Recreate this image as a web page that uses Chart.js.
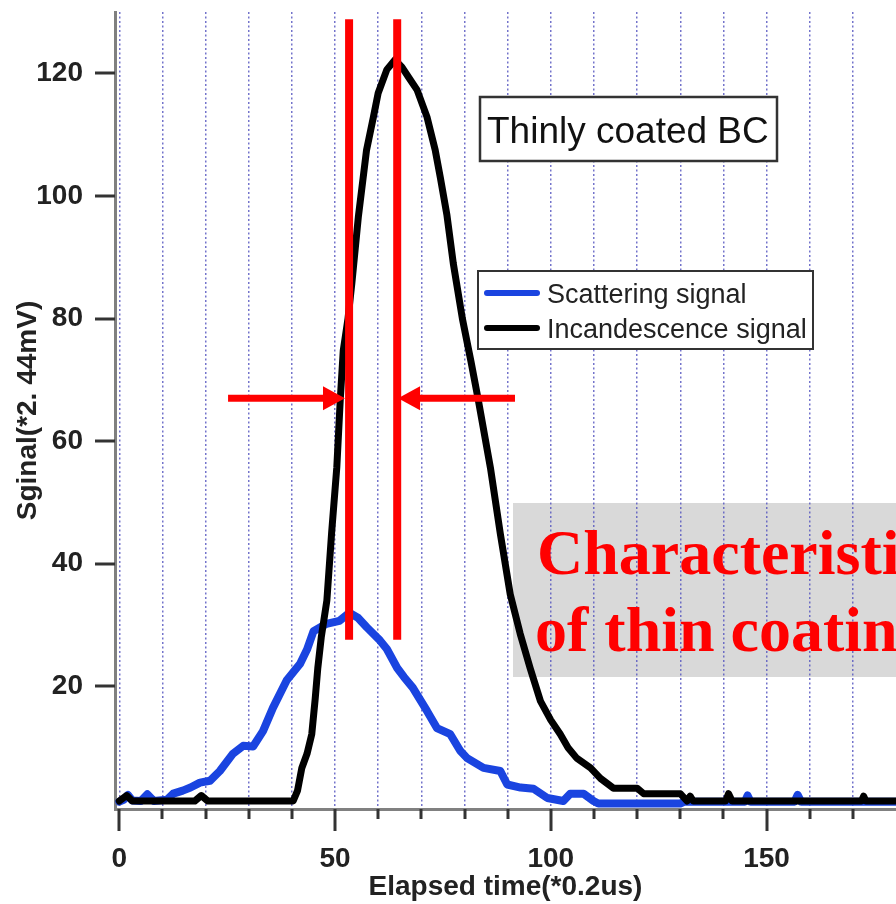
<!DOCTYPE html>
<html>
<head>
<meta charset="utf-8">
<script src="https://cdn.jsdelivr.net/npm/chart.js@4/dist/chart.umd.min.js"></script>
<style>
  html, body { margin: 0; padding: 0; background: #fff; }
  canvas { display: block; }
</style>
</head>
<body>
<canvas id="signal-chart" width="896" height="904"></canvas>
<script>
// scattering signal (blue), elapsed time in units of 0.2us
const scatterTime = [0, 1, 2, 3, 5, 6.5, 8, 11, 12.5, 14.7, 16.5, 18.7, 21, 23.3, 26.3, 28.7, 31, 33.3,
  35.6, 38.8, 41.9, 43.5, 45, 48, 51, 53.3, 55.3, 57.4, 60.4, 62, 64.4, 66, 68, 71.3, 73.6, 76.7,
  79, 80.6, 84.4, 88.3, 89.9, 93, 96, 99.2, 102.9, 104.5, 107.6, 109.9, 111, 130, 131, 145, 145.6,
  146.3, 156.5, 157.2, 158, 180];
const scatterValue = [1.2, 1.5, 2.3, 1.4, 1.3, 2.4, 1.3, 1.5, 2.5, 3, 3.5, 4.3, 4.6, 6.2, 9, 10.3, 10.2, 12.7,
  16.5, 21, 23.7, 26, 29, 30.2, 30.7, 32, 31.2, 29.6, 27.5, 26.1, 23, 21.5, 19.8, 16, 13.2, 12.2,
  9.5, 8.3, 6.7, 6.2, 4, 3.5, 3.3, 1.8, 1.3, 2.5, 2.5, 1.3, 0.9, 0.9, 1.2, 1.2, 2.2,
  1.2, 1.2, 2.3, 1.2, 1.2];

// incandescence signal (black)
const incandTime = [0, 1.7, 3, 17.5, 19, 20.5, 40.3, 41.3, 42.3, 43.5, 44.6, 45.4, 46, 46.8, 48.1, 49.2,
  50.4, 51.2, 51.9, 53, 53.9, 55.4, 57.3, 58.9, 60, 62, 63.9, 65.5, 67, 69, 71.3, 73.2, 74.4, 75.9,
  77.4, 79.5, 81.5, 83.2, 86, 88.3, 90.6, 92.9, 95.2, 97.6, 100, 102.2, 104, 106, 109.2, 111.5,
  114.5, 120, 121.5, 130, 131.6, 132.3, 133, 140.5, 141.2, 142, 172, 172.5, 173, 180];
const incandValue = [1.3, 2.2, 1.3, 1.3, 2.2, 1.3, 1.3, 3, 6.7, 9, 12.2, 18, 23, 28, 34, 45,
  55.7, 66.7, 74.8, 80, 85.8, 96.6, 107.5, 112.9, 116.8, 120.6, 122.2, 121, 119.4, 117.3, 112.9, 107.5, 103, 97,
  89, 80, 73, 66.7, 55.7, 44.9, 35, 28.6, 23, 17.6, 14.5, 12.2, 10, 8.3, 6.7, 5,
  3.4, 3.4, 2.5, 2.5, 1.3, 2.1, 1.3, 1.3, 2.5, 1.3, 1.3, 2.1, 1.3, 1.3];

const seriesNames = ['Scattering signal', 'Incandescence signal'];
const xTicks = [0, 10, 20, 30, 40, 50, 60, 70, 80, 90, 100, 110, 120, 130, 140, 150, 160, 170];
const xLabelTicks = [0, 50, 100, 150];
const yTicks = [20, 40, 60, 80, 100, 120];

// red markers drawn over the plot (data units)
const peakLinesX = [53.25, 64.4];
const peakLinesRange = [27.6, 128.8];
const arrowY = 67;
const arrowLeft = [25.2, 52.3];
const arrowRight = [91.7, 64.6];

const BLUE = '#1a44e0';
const RED = '#ff0000';

function toPoints(xs, ys) {
    return xs.map((x, i) => ({ x: x, y: ys[i] }));
}

function fixTicks(values) {
    return scale => { scale.ticks = values.map(v => ({ value: v })); };
}

const overlay = {
    id: 'overlay',
    beforeDraw(chart) {
        const ctx = chart.ctx;
        ctx.save();
        ctx.fillStyle = '#ffffff';
        ctx.fillRect(0, 0, chart.width, chart.height);
        // grey note box sits under the grid
        ctx.fillStyle = '#d9d9d9';
        ctx.fillRect(513, 503, 383, 174);
        ctx.restore();
    },
    afterDraw(chart) {
        const ctx = chart.ctx;
        const xs = chart.scales.x;
        const ys = chart.scales.y;
        const area = chart.chartArea;
        ctx.save();

        // tick marks
        ctx.strokeStyle = '#333';
        ctx.lineWidth = 3;
        xTicks.forEach(v => {
            const px = Math.round(xs.getPixelForValue(v));
            const len = xLabelTicks.includes(v) ? 22 : 10;
            ctx.beginPath();
            ctx.moveTo(px, area.bottom);
            ctx.lineTo(px, area.bottom + len);
            ctx.stroke();
        });
        yTicks.forEach(v => {
            const py = Math.round(ys.getPixelForValue(v));
            ctx.beginPath();
            ctx.moveTo(area.left - 20, py);
            ctx.lineTo(area.left, py);
            ctx.stroke();
        });

        // red peak lines
        ctx.strokeStyle = RED;
        ctx.lineWidth = 8;
        peakLinesX.forEach(v => {
            const px = xs.getPixelForValue(v);
            ctx.beginPath();
            ctx.moveTo(px, ys.getPixelForValue(peakLinesRange[1]));
            ctx.lineTo(px, ys.getPixelForValue(peakLinesRange[0]));
            ctx.stroke();
        });

        // arrows
        function arrow(from, to) {
            const y = ys.getPixelForValue(arrowY);
            const x0 = xs.getPixelForValue(from);
            const x1 = xs.getPixelForValue(to);
            const dir = x1 > x0 ? 1 : -1;
            ctx.lineWidth = 7;
            ctx.beginPath();
            ctx.moveTo(x0, y);
            ctx.lineTo(x1 - dir * 18, y);
            ctx.stroke();
            ctx.fillStyle = RED;
            ctx.beginPath();
            ctx.moveTo(x1, y);
            ctx.lineTo(x1 - dir * 22, y - 12);
            ctx.lineTo(x1 - dir * 22, y + 12);
            ctx.closePath();
            ctx.fill();
        }
        arrow(arrowLeft[0], arrowLeft[1]);
        arrow(arrowRight[0], arrowRight[1]);

        // "Thinly coated BC" label box
        ctx.fillStyle = '#fff';
        ctx.fillRect(480, 97, 297, 64);
        ctx.strokeStyle = '#333';
        ctx.lineWidth = 2.5;
        ctx.strokeRect(480, 97, 297, 64);
        ctx.fillStyle = '#111';
        ctx.font = '37px "Liberation Sans", Arial, sans-serif';
        ctx.textBaseline = 'alphabetic';
        ctx.fillText('Thinly coated BC', 487, 143);

        // legend box
        ctx.fillStyle = '#fff';
        ctx.fillRect(478, 271, 335, 78);
        ctx.strokeStyle = '#333';
        ctx.lineWidth = 2;
        ctx.strokeRect(478, 271, 335, 78);
        const colors = [BLUE, '#000'];
        const rowsY = [293, 328];
        ctx.lineCap = 'round';
        ctx.font = '27px "Liberation Sans", Arial, sans-serif';
        seriesNames.forEach((name, i) => {
            ctx.strokeStyle = colors[i];
            ctx.lineWidth = 6;
            ctx.beginPath();
            ctx.moveTo(487, rowsY[i]);
            ctx.lineTo(537, rowsY[i]);
            ctx.stroke();
            ctx.fillStyle = '#222';
            ctx.fillText(name, 547, rowsY[i] + 10);
        });

        // red note text
        ctx.fillStyle = RED;
        ctx.font = 'bold 64px "Liberation Serif", "Times New Roman", serif';
        ctx.fillText('Characteristics', 537, 574);
        ctx.fillText('of thin coating', 535, 651);

        ctx.restore();
    }
};

const canvas = document.querySelector('#signal-chart');
const chart = new Chart(canvas.getContext('2d'), {
    type: 'line',
    data: {
        datasets: [
            {
                label: seriesNames[1],
                data: toPoints(incandTime, incandValue),
                borderColor: '#000',
                borderWidth: 7,
                order: 0
            },
            {
                label: seriesNames[0],
                data: toPoints(scatterTime, scatterValue),
                borderColor: BLUE,
                borderWidth: 8,
                order: 1
            }
        ]
    },
    options: {
        responsive: false,
        devicePixelRatio: 1,
        animation: false,
        events: [],
        elements: {
            point: { radius: 0 },
            line: { tension: 0, borderJoinStyle: 'round', borderCapStyle: 'round' }
        },
        layout: { padding: { top: 12, right: 0, left: 0, bottom: 0 }, autoPadding: false },
        plugins: {
            legend: { display: false },
            tooltip: { enabled: false }
        },
        scales: {
            x: {
                type: 'linear',
                min: -1,
                max: 180,
                afterBuildTicks: fixTicks(xTicks),
                afterFit: scale => {
                    scale.height = 95;
                    scale.paddingLeft = 0;
                    scale.paddingRight = 0;
                },
                grid: {
                    color: 'rgba(80, 80, 190, 0.8)',
                    lineWidth: 1.5,
                    drawTicks: false
                },
                border: { display: true, color: '#808080', width: 3, dash: [2, 2.5] },
                ticks: {
                    autoSkip: false,
                    maxRotation: 0,
                    padding: 33,
                    color: '#222',
                    font: { family: '"Liberation Sans", Arial, sans-serif', size: 28, weight: 'bold' },
                    callback: v => (xLabelTicks.includes(v) ? String(v) : '')
                },
                title: {
                    display: true,
                    text: 'Elapsed time(*0.2us)',
                    color: '#222',
                    font: { family: '"Liberation Sans", Arial, sans-serif', size: 28, weight: 'bold' },
                    padding: { top: 0, bottom: 0 }
                }
            },
            y: {
                min: 0,
                max: 130,
                afterBuildTicks: fixTicks(yTicks),
                afterFit: scale => {
                    scale.width = 115;
                    scale.paddingTop = 0;
                    scale.paddingBottom = 0;
                },
                grid: { color: 'rgba(0,0,0,0)', drawTicks: false },
                border: { display: true, color: '#808080', width: 3 },
                ticks: {
                    padding: 32,
                    color: '#222',
                    font: { family: '"Liberation Sans", Arial, sans-serif', size: 28, weight: 'bold' }
                },
                title: {
                    display: true,
                    text: 'Sginal(*2. 44mV)',
                    color: '#222',
                    font: { family: '"Liberation Sans", Arial, sans-serif', size: 28, weight: 'bold' },
                    padding: { top: 11, bottom: 0 }
                }
            }
        }
    },
    plugins: [overlay]
});
</script>
</body>
</html>
